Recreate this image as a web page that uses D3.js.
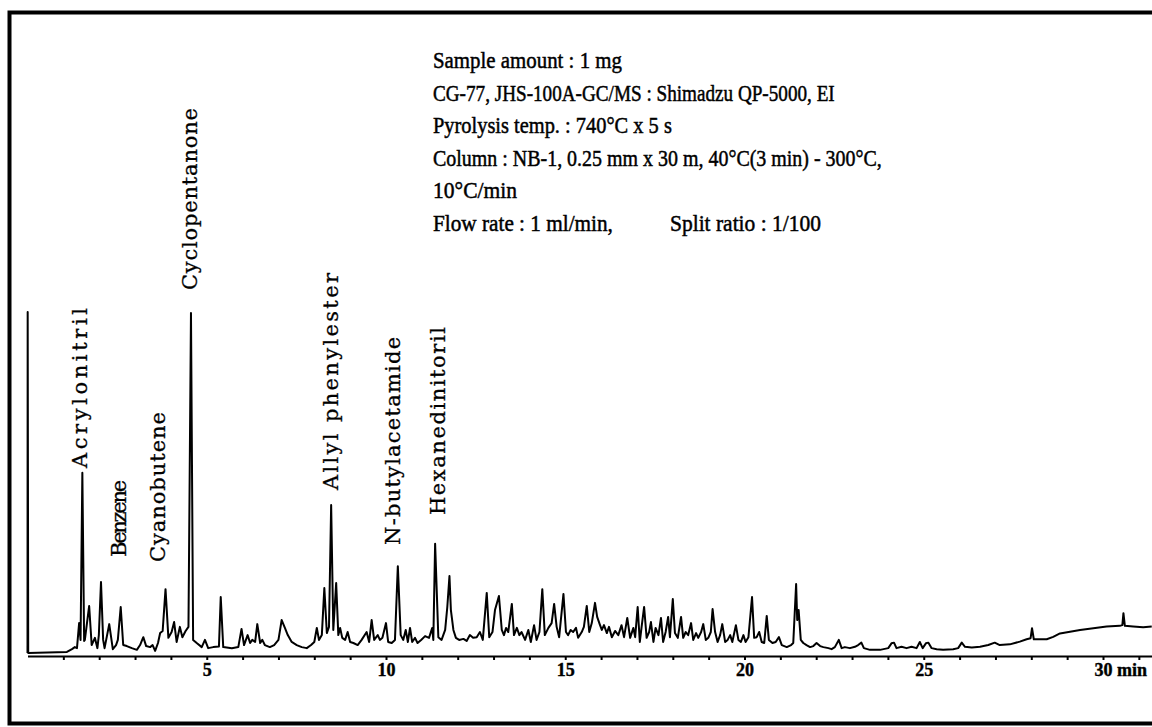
<!DOCTYPE html>
<html><head><meta charset="utf-8">
<script src="https://cdn.jsdelivr.net/npm/d3@7"></script>
<style>
html,body{margin:0;padding:0;background:#fff;}
svg{display:block;}
</style></head>
<body>
<svg id="chart" width="1152" height="727"></svg>
<script>
// ---- DATA ----
// Pyrolysis GC/MS total ion chromatogram: [retention time (min), relative intensity (%)]
const trace = [
[0,0.6],[0.005,100],[0.02,0.6],[1.10,0.9],[1.24,1.7],[1.32,2.3],[1.38,2.0],[1.44,9.3],[1.48,4.4],
[1.53,53.1],[1.58,4.1],[1.60,4.4],[1.72,14.3],[1.79,2.9],[1.88,5.0],[1.95,2.0],[1.99,5.8],[2.05,21.3],
[2.11,4.4],[2.15,2.0],[2.28,9.0],[2.38,1.7],[2.47,2.9],[2.52,4.4],[2.60,14.0],[2.67,2.9],[2.77,2.6],
[2.91,2.0],[3.05,1.5],[3.14,2.9],[3.23,5.2],[3.31,2.6],[3.42,2.3],[3.49,2.9],[3.56,1.2],[3.64,3.5],
[3.70,6.4],[3.77,7.0],[3.85,19.2],[3.93,5.0],[4.02,6.7],[4.09,9.6],[4.16,3.8],[4.25,8.2],[4.32,5.2],
[4.41,7.0],[4.49,8.2],[4.56,99.7],[4.62,4.4],[4.72,3.5],[4.86,2.3],[4.95,4.4],[5.04,2.0],[5.18,2.3],
[5.34,2.5],[5.39,16.9],[5.46,2.3],[5.70,2.0],[5.88,2.3],[5.97,7.6],[6.04,2.9],[6.14,5.8],[6.21,3.5],
[6.27,4.4],[6.35,3.8],[6.41,9.0],[6.49,3.5],[6.55,4.4],[6.62,2.9],[6.76,2.3],[6.88,2.9],[7.00,4.4],
[7.09,10.2],[7.18,7.9],[7.26,5.8],[7.37,3.8],[7.51,2.9],[7.65,2.3],[7.79,2.0],[7.91,2.9],[8.00,3.8],
[8.07,7.9],[8.13,4.4],[8.21,5.8],[8.28,19.5],[8.35,6.4],[8.41,8.2],[8.47,43.7],[8.53,7.3],[8.61,21.0],
[8.67,5.8],[8.72,7.9],[8.78,5.0],[8.86,4.4],[8.93,6.7],[9.00,3.8],[9.09,3.5],[9.21,2.9],[9.32,4.4],
[9.46,6.7],[9.53,3.8],[9.60,10.2],[9.67,4.4],[9.77,5.8],[9.83,4.4],[9.90,5.0],[10.00,9.3],[10.06,3.8],
[10.16,3.5],[10.25,4.4],[10.33,25.9],[10.41,5.8],[10.48,4.4],[10.55,7.3],[10.61,3.8],[10.67,7.9],
[10.73,3.8],[10.81,5.0],[10.88,3.5],[10.98,4.4],[11.09,5.5],[11.20,5.0],[11.29,7.9],[11.32,4.4],
[11.37,32.4],[11.46,5.2],[11.55,4.4],[11.65,7.3],[11.71,14.0],[11.77,23.0],[11.81,13.1],[11.88,7.3],
[11.95,5.0],[12.04,4.4],[12.16,4.7],[12.25,4.1],[12.34,5.8],[12.43,5.0],[12.53,5.2],[12.62,6.7],
[12.70,4.4],[12.81,18.1],[12.88,5.2],[12.97,6.7],[13.04,13.1],[13.15,17.2],[13.23,7.3],[13.29,5.8],
[13.35,7.9],[13.41,6.7],[13.51,14.9],[13.57,5.8],[13.65,7.9],[13.72,5.8],[13.78,6.7],[13.88,4.4],
[13.97,7.3],[14.04,3.8],[14.13,8.7],[14.20,4.4],[14.28,6.7],[14.36,19.2],[14.43,5.8],[14.53,7.9],
[14.62,9.3],[14.69,14.9],[14.76,8.2],[14.83,5.2],[14.95,17.8],[15.02,6.7],[15.08,5.8],[15.15,7.3],
[15.22,6.7],[15.30,7.9],[15.36,5.0],[15.46,6.7],[15.52,8.2],[15.60,14.3],[15.67,6.7],[15.74,9.3],
[15.83,15.2],[15.89,11.1],[15.97,8.7],[16.02,7.3],[16.08,8.7],[16.16,6.4],[16.22,8.2],[16.30,5.2],
[16.39,7.0],[16.48,5.8],[16.57,8.7],[16.64,5.2],[16.73,10.8],[16.81,5.0],[16.90,7.9],[16.95,5.2],
[17.02,14.0],[17.08,3.8],[17.13,8.2],[17.20,14.0],[17.27,5.0],[17.34,6.7],[17.39,9.6],[17.46,3.8],
[17.52,7.9],[17.60,5.8],[17.67,10.8],[17.73,3.8],[17.80,6.7],[17.87,11.1],[17.92,5.2],[18.00,16.3],
[18.06,6.4],[18.14,5.0],[18.23,11.1],[18.29,5.0],[18.36,6.7],[18.43,5.8],[18.51,9.3],[18.57,4.4],
[18.65,6.4],[18.71,5.0],[18.79,6.7],[18.85,9.0],[18.92,4.4],[18.99,5.0],[19.06,6.7],[19.11,13.4],
[19.18,6.7],[19.25,3.8],[19.32,5.8],[19.38,9.0],[19.46,3.8],[19.53,4.4],[19.60,5.8],[19.66,3.8],
[19.76,8.7],[19.83,4.4],[19.90,3.8],[19.97,5.8],[20.03,3.8],[20.11,5.2],[20.21,16.9],[20.27,5.0],
[20.34,5.2],[20.41,6.7],[20.48,3.8],[20.55,3.5],[20.62,11.4],[20.68,4.4],[20.78,3.5],[20.87,3.8],
[20.96,5.2],[21.04,2.9],[21.18,2.3],[21.30,2.9],[21.36,3.5],[21.44,20.7],[21.47,10.2],[21.51,13.1],
[21.57,4.4],[21.64,3.5],[21.73,2.9],[21.83,2.3],[21.92,2.6],[22.01,3.5],[22.11,2.6],[22.20,2.3],
[22.34,2.0],[22.43,1.7],[22.52,2.3],[22.63,4.4],[22.71,2.0],[22.80,2.3],[22.94,2.0],[23.08,2.4],
[23.17,2.9],[23.26,3.6],[23.33,2.0],[23.50,1.5],[23.78,1.5],[24.01,2.0],[24.10,3.4],[24.17,3.6],
[24.24,2.0],[24.38,2.4],[24.52,2.0],[24.66,2.4],[24.80,2.0],[24.89,3.8],[24.97,2.0],[25.06,3.4],
[25.13,3.6],[25.22,2.0],[25.36,1.7],[25.54,1.5],[25.82,1.7],[25.96,2.0],[26.06,3.6],[26.15,2.4],
[26.34,2.2],[26.57,2.4],[26.80,2.9],[26.98,3.6],[27.12,2.9],[27.40,3.1],[27.68,3.9],[27.87,4.6],
[27.98,4.9],[28.02,7.8],[28.07,4.6],[28.24,4.6],[28.43,4.6],[28.61,5.3],[28.80,6.3],[29.08,6.8],
[29.36,7.3],[29.73,7.8],[30.10,8.3],[30.47,8.5],[30.54,8.7],[30.57,12.2],[30.61,8.5],[30.84,8.3],
[31.12,8.1],[31.36,8.3]
];

// Identified peaks (label text, label anchor time, label start height in %)
const peakNames   = ["Acrylonitril","Benzene","Cyanobutene","Cyclopentanone","Allyl phenylester","N-butylacetamide","Hexanedinitoril"];
const peakLabelT  = [1.66, 2.75, 3.84, 4.73, 8.66, 10.39, 11.65];
const peakLabelH  = [54.5, 28.6, 27.1, 106.4, 48.1, 32.1, 40.8];
const peakLabelLen= [160, 77, 150, 182, 217, 208, 188];

// Axis ticks (min)
const tickValues = d3.range(1, 32);
const tickLabels = {5:"5", 10:"10", 15:"15", 20:"20", 25:"25", 30:"30 min"};

// Conditions block
const conditionLines = [
  "Sample amount : 1 mg",
  "CG-77, JHS-100A-GC/MS : Shimadzu QP-5000, EI",
  "Pyrolysis temp. : 740°C x 5 s",
  "Column : NB-1, 0.25 mm x 30 m, 40°C(3 min) - 300°C,",
  "10°C/min",
  "Flow rate : 1 ml/min,"
];
const conditionWidths = [189, 402, 239, 449, 84, 180];
const splitText = "Split ratio : 1/100";
const splitWidth = 151;

// ---- DRAW ----
const svg = d3.select("#chart");
svg.append("rect").attr("width",1152).attr("height",727).attr("fill","#fff");

// frame
svg.append("rect").attr("x",9.5).attr("y",12.5).attr("width",1150).attr("height",711)
  .attr("fill","none").attr("stroke","#000").attr("stroke-width",4);

const x = d3.scaleLinear().domain([0, 31.4]).range([27.5, 27.5 + 31.4*35.85]);
const y = d3.scaleLinear().domain([0, 100]).range([655, 312]);

// axis
const axis = d3.axisBottom(x).tickValues(tickValues).tickSize(4).tickSizeOuter(0)
  .tickFormat(d => tickLabels[d] || "");
const gx = svg.append("g").attr("transform","translate(0,656)").call(axis);
gx.select(".domain").attr("stroke","#000").attr("stroke-width",2.2);
gx.selectAll(".tick line").attr("stroke","#000").attr("stroke-width",2);
gx.selectAll(".tick text")
  .attr("fill","#000")
  .attr("stroke","#000").attr("stroke-width",0.4)
  .attr("font-family","'Liberation Serif', serif")
  .attr("font-weight","bold")
  .attr("font-size",18)
  .attr("y",7)
  .attr("dy","0.71em")
  .each(function(d){
    const t = d3.select(this);
    if (d === 30) { t.attr("text-anchor","start").attr("x",-9); }
  });

// chromatogram trace
const line = d3.line().x(d => x(d[0])).y(d => y(d[1]));
svg.append("path").datum(trace).attr("d",line)
  .attr("fill","none").attr("stroke","#000").attr("stroke-width",2)
  .attr("stroke-linejoin","round");

// peak labels
peakNames.forEach((name,i) => {
  const px = x(peakLabelT[i]), py = y(peakLabelH[i]);
  svg.append("text")
    .attr("transform",`translate(${px},${py}) rotate(-90)`)
    .attr("font-family","'DejaVu Serif', serif")
    .attr("font-size",21)
    .attr("fill","#000").attr("stroke","#000").attr("stroke-width",0.3)
    .attr("textLength",peakLabelLen[i]).attr("lengthAdjust","spacing")
    .text(name);
});

// conditions text, horizontally condensed to the measured widths
const tg = svg.append("g").attr("font-family","'Liberation Serif', serif").attr("font-size",24)
  .attr("fill","#000").attr("stroke","#000").attr("stroke-width",0.5);
function condensed(str, x0, y0, w) {
  const g = tg.append("g");
  const t = g.append("text").attr("x",0).attr("y",0).text(str);
  const nat = t.node().getComputedTextLength();
  g.attr("transform",`translate(${x0},${y0}) scale(${w/nat},1)`);
}
conditionLines.forEach((s,i) => condensed(s, 433, 68 + i*32.5, conditionWidths[i]));
condensed(splitText, 670, 68 + 5*32.5, splitWidth);
</script>
</body></html>
